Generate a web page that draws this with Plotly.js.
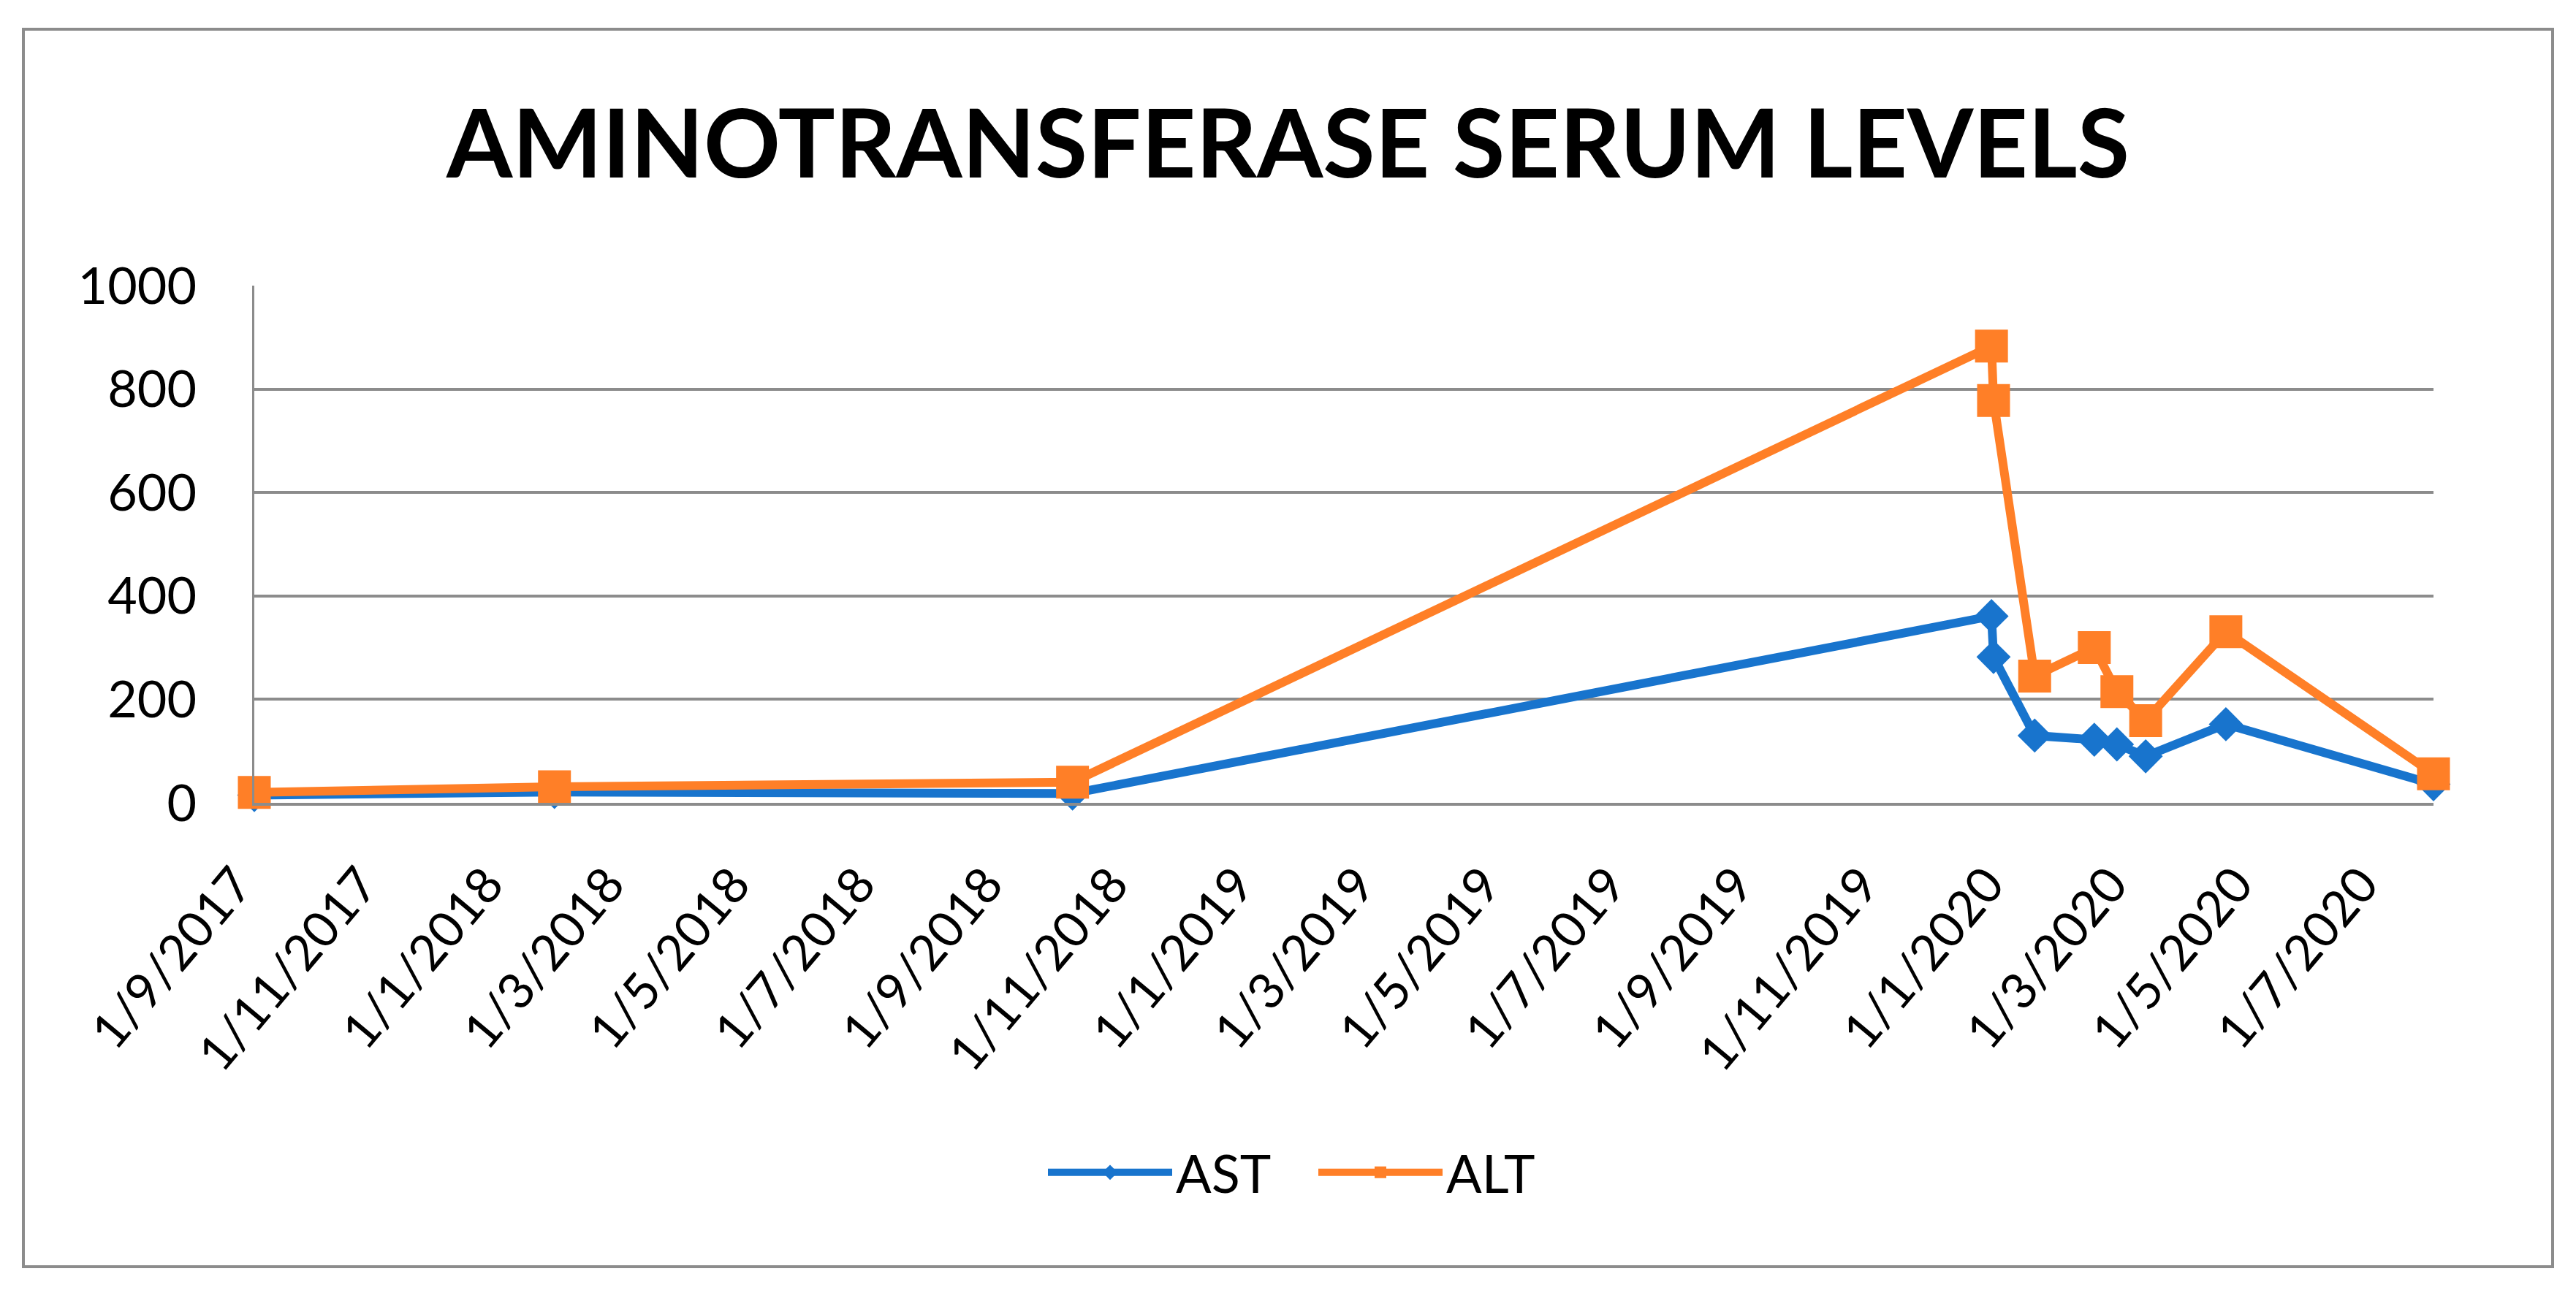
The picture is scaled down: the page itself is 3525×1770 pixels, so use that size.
<!DOCTYPE html>
<html>
<head>
<meta charset="utf-8">
<script src="https://cdn.plot.ly/plotly-3.0.1.min.js"></script>
<style>
  html, body { margin: 0; padding: 0; background: #ffffff; }
  #chart { width: 3525px; height: 1770px; }
</style>
</head>
<body>
<div id="chart"></div>
<script>
// ---- Data ----
var dates = ['2017-09-01', '2018-01-25', '2018-10-04', '2019-12-25', '2019-12-26',
             '2020-01-15', '2020-02-13', '2020-02-24', '2020-03-09', '2020-04-17', '2020-07-27'];
var astValues = [15, 21, 18, 361, 282, 130, 122, 113, 90, 152, 36];
var altValues = [20, 31, 40, 883, 778, 245, 300, 215, 159, 331, 56];

var tickDates = ['2017-09-01', '2017-11-01', '2018-01-01', '2018-03-01', '2018-05-01', '2018-07-01',
                 '2018-09-01', '2018-11-01', '2019-01-01', '2019-03-01', '2019-05-01', '2019-07-01',
                 '2019-09-01', '2019-11-01', '2020-01-01', '2020-03-01', '2020-05-01', '2020-07-01'];
var tickLabels = ['1/9/2017', '1/11/2017', '1/1/2018', '1/3/2018', '1/5/2018', '1/7/2018',
                  '1/9/2018', '1/11/2018', '1/1/2019', '1/3/2019', '1/5/2019', '1/7/2019',
                  '1/9/2019', '1/11/2019', '1/1/2020', '1/3/2020', '1/5/2020', '1/7/2020'];
var yTicks = [0, 200, 400, 600, 800, 1000];

var chartTitle = 'AMINOTRANSFERASE SERUM LEVELS';
var seriesNames = ['AST', 'ALT'];

// ---- Styles ----
var BLUE = '#1874CD';
var ORANGE = '#FF7F27';
var GRID = '#8c8c8c';
var FONT = 'Lato, "Open Sans", sans-serif';

var traces = [
  {
    type: 'scatter', mode: 'lines+markers', name: seriesNames[0],
    x: dates, y: astValues,
    line: { color: BLUE, width: 12 },
    marker: { symbol: 'diamond', size: 36, color: BLUE },
    cliponaxis: false
  },
  {
    type: 'scatter', mode: 'lines+markers', name: seriesNames[1],
    x: dates, y: altValues,
    line: { color: ORANGE, width: 12 },
    marker: { symbol: 'square', size: 45, color: ORANGE },
    cliponaxis: false
  }
];

var layout = {
  width: 3525, height: 1770,
  margin: { l: 348, r: 195, t: 391, b: 671 },
  paper_bgcolor: '#ffffff', plot_bgcolor: '#ffffff',
  font: { family: FONT, color: '#000000', size: 72 },
  title: {
    text: chartTitle,
    font: { family: FONT, size: 130, weight: 700, color: '#000000' },
    x: 0.5, xanchor: 'center', xref: 'container',
    y: 1 - 197 / 1770, yanchor: 'middle', yref: 'container'
  },
  xaxis: {
    type: 'date',
    range: [dates[0], dates[dates.length - 1]],
    tickmode: 'array', tickvals: tickDates, ticktext: tickLabels,
    tickangle: -50,
    tickfont: { family: FONT, size: 68, color: '#000000' },
    showgrid: false, zeroline: false,
    showline: true, linecolor: GRID, linewidth: 4,
    ticks: '', ticklabelstandoff: 40, ticklabelshift: -25
  },
  yaxis: {
    range: [0, 1000],
    tickmode: 'array', tickvals: yTicks,
    tickfont: { family: FONT, size: 70, color: '#000000' },
    showgrid: true, gridcolor: GRID, gridwidth: 4,
    zeroline: false,
    showline: true, linecolor: GRID, linewidth: 3,
    ticks: '', ticklabelstandoff: 62
  },
  showlegend: true,
  legend: {
    orientation: 'h',
    x: 0.5 - 40 / 2982, xanchor: 'center',
    y: (1099 - 1605) / 708, yanchor: 'middle',
    font: { family: FONT, size: 72, color: '#000000' },
    itemwidth: 170,
    entrywidth: 185,
    bgcolor: 'rgba(0,0,0,0)'
  },
  shapes: [
    {
      type: 'rect', xref: 'paper', yref: 'paper',
      x0: (32 - 348) / 2982, x1: (3493 - 348) / 2982,
      y0: (1099 - 1734) / 708, y1: (1099 - 40) / 708,
      line: { color: GRID, width: 4 }, fillcolor: 'rgba(0,0,0,0)', layer: 'below'
    }
  ]
};

Plotly.newPlot('chart', traces, layout, { displayModeBar: false, staticPlot: true });
</script>
</body>
</html>
